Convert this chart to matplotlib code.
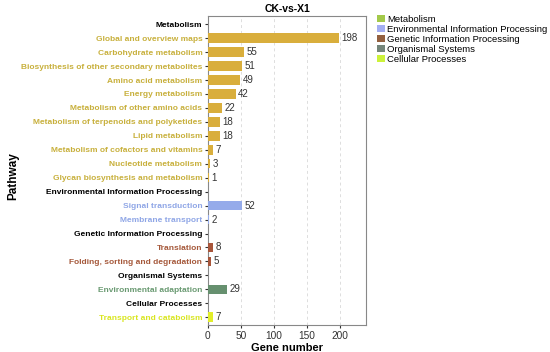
import matplotlib
matplotlib.use("Agg")
import matplotlib.pyplot as plt
from matplotlib.patches import Patch

plt.rcParams['font.family'] = ['Liberation Sans', 'DejaVu Sans']

pathways = [
    "Metabolism", "Global and overview maps", "Carbohydrate metabolism",
    "Biosynthesis of other secondary metabolites", "Amino acid metabolism",
    "Energy metabolism", "Metabolism of other amino acids",
    "Metabolism of terpenoids and polyketides", "Lipid metabolism",
    "Metabolism of cofactors and vitamins", "Nucleotide metabolism",
    "Glycan biosynthesis and metabolism",
    "Environmental Information Processing", "Signal transduction", "Membrane transport",
    "Genetic Information Processing", "Translation", "Folding, sorting and degradation",
    "Organismal Systems", "Environmental adaptation",
    "Cellular Processes", "Transport and catabolism",
]
values = [None, 198, 55, 51, 49, 42, 22, 18, 18, 7, 3, 1,
          None, 52, 2,
          None, 8, 5,
          None, 29,
          None, 7]
groups = ["H", "M", "M", "M", "M", "M", "M", "M", "M", "M", "M", "M",
          "H", "E", "E",
          "H", "G", "G",
          "H", "O",
          "H", "C"]

bar_colors = {"M": "#D9AE3C", "E": "#95ABEA", "G": "#A8553A", "O": "#66906F", "C": "#E2EE2A"}
text_colors = {"H": "black", "M": "#C8B03C", "E": "#8FA6E6", "G": "#A5583A", "O": "#6A9A72", "C": "#D9E620"}

legend_labels = ["Metabolism", "Environmental Information Processing",
                 "Genetic Information Processing", "Organismal Systems", "Cellular Processes"]
legend_colors = ["#A3C94A", "#A3AEF2", "#93603F", "#74857A", "#CCF23A"]

fig = plt.figure(figsize=(5.5, 3.52), dpi=100)
ax = fig.add_axes([0.378, 0.077, 0.288, 0.878])

n = len(pathways)
for i, (v, g) in enumerate(zip(values, groups)):
    if v is None:
        continue
    ax.barh(i, v, height=0.68, color=bar_colors[g], zorder=3)
    ax.text(v + 4, i, str(v), va="center", ha="left", fontsize=7, color="#333333", zorder=4)

ax.set_yticks(range(n))
ax.set_yticklabels(pathways, fontsize=6.0, fontweight="bold")
for lab, g in zip(ax.get_yticklabels(), groups):
    lab.set_color(text_colors[g])
ax.set_ylim(n - 0.45, -0.6)
ax.set_xlim(0, 240)
ax.set_xticks([0, 50, 100, 150, 200])
ax.tick_params(axis="x", labelsize=7.3, length=2.5, pad=2, colors="#333333")
ax.tick_params(axis="y", length=2.5, pad=1.5, color="#333333")
ax.grid(axis="x", linestyle=(0, (3, 3)), color="#dddddd", linewidth=0.7, zorder=0)
for s in ax.spines.values():
    s.set_color("#888888")
    s.set_linewidth(0.8)

ax.set_title("CK-vs-X1", fontsize=7.5, fontweight="bold", pad=3)
ax.set_xlabel("Gene number", fontsize=8, fontweight="bold", labelpad=1)
fig.text(0.024, 0.5, "Pathway", rotation=90, va="center", ha="center",
         fontsize=8.5, fontweight="bold")

handles = [Patch(facecolor=c, edgecolor="none") for c in legend_colors]
fig.legend(handles, legend_labels, loc="upper left", bbox_to_anchor=(0.685, 0.958),
           frameon=False, fontsize=6.8, handlelength=0.85, handleheight=0.85,
           handletextpad=0.25, labelspacing=0.1, borderaxespad=0, borderpad=0)

fig.savefig("out.png", dpi=100)
